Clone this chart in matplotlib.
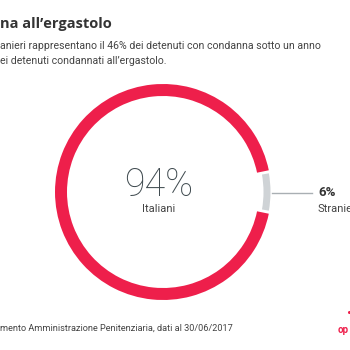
import matplotlib.pyplot as plt

# data
labels = ["Italiani", "Stranieri"]
shares = [94, 6]
colors = ["#ee1f4b", "#cfd3d6"]

title = "na all\u2019ergastolo"
subtitle = ["anieri rappresentano il 46% dei detenuti con condanna sotto un anno",
            "ei detenuti condannati all\u2019ergastolo."]
source = "mento Amministrazione Penitenziaria, dati al 30/06/2017"

W = H = 350
fig = plt.figure(figsize=(3.5, 3.5), dpi=100)
bg = fig.add_axes([0, 0, 1, 1])
bg.set_xlim(0, W)
bg.set_ylim(H, 0)
bg.axis("off")

# donut
cx, cy, R = 163, 192, 108
ax = fig.add_axes([(cx - R) / W, (H - cy - R) / H, 2 * R / W, 2 * R / H])
start = 360 * shares[1] / 200
wedges, _ = ax.pie(shares, colors=colors, startangle=start, radius=1,
                   wedgeprops=dict(width=12 / R, linewidth=0))
gap = 0.8
for w in wedges:
    w.set_theta1(w.theta1 + gap)
    w.set_theta2(w.theta2 - gap)
# thinner grey segment
wedges[1].set_radius(107.5 / R)
wedges[1].set_width(7 / R)
ax.set_xlim(-1, 1)
ax.set_ylim(-1, 1)
ax.set_aspect("equal")
ax.axis("off")

font = ["Roboto", "DejaVu Sans"]

bg.text(0, 24, title, fontsize=10.5, fontweight="bold", color="#333333",
        family=["Open Sans", "DejaVu Sans"], va="center", ha="left")
bg.text(0, 46, subtitle[0], fontsize=7.6, color="#444444", family=font,
        va="center", ha="left")
bg.text(0, 61, subtitle[1], fontsize=7.6, color="#444444", family=font,
        va="center", ha="left")

bg.text(cx - 4, 185, f"{shares[0]}%", fontsize=27, fontweight="light",
        color="#3f4a4f", family=font, va="center", ha="center")
bg.text(cx - 4, 209, labels[0], fontsize=8, color="#444444", family=font,
        va="center", ha="center")

bg.plot([272, 312], [193, 193], color="#a9afb3", lw=1)
bg.text(318, 193, f"{shares[1]}%", fontsize=9.5, fontweight="bold",
        color="#333333", family=font, va="center", ha="left")
bg.text(318, 209, labels[1], fontsize=8, color="#444444", family=font,
        va="center", ha="left")

bg.text(0, 328, source, fontsize=6.6, color="#444444", family=font,
        va="center", ha="left")
bg.text(338, 330, "op", fontsize=7, fontweight="bold", color="#ee1f4b",
        family=font, va="center", ha="left")
bg.plot([349], [312], marker="o", ms=1.2, color="#ee1f4b")

fig.savefig("out.png", dpi=100)
